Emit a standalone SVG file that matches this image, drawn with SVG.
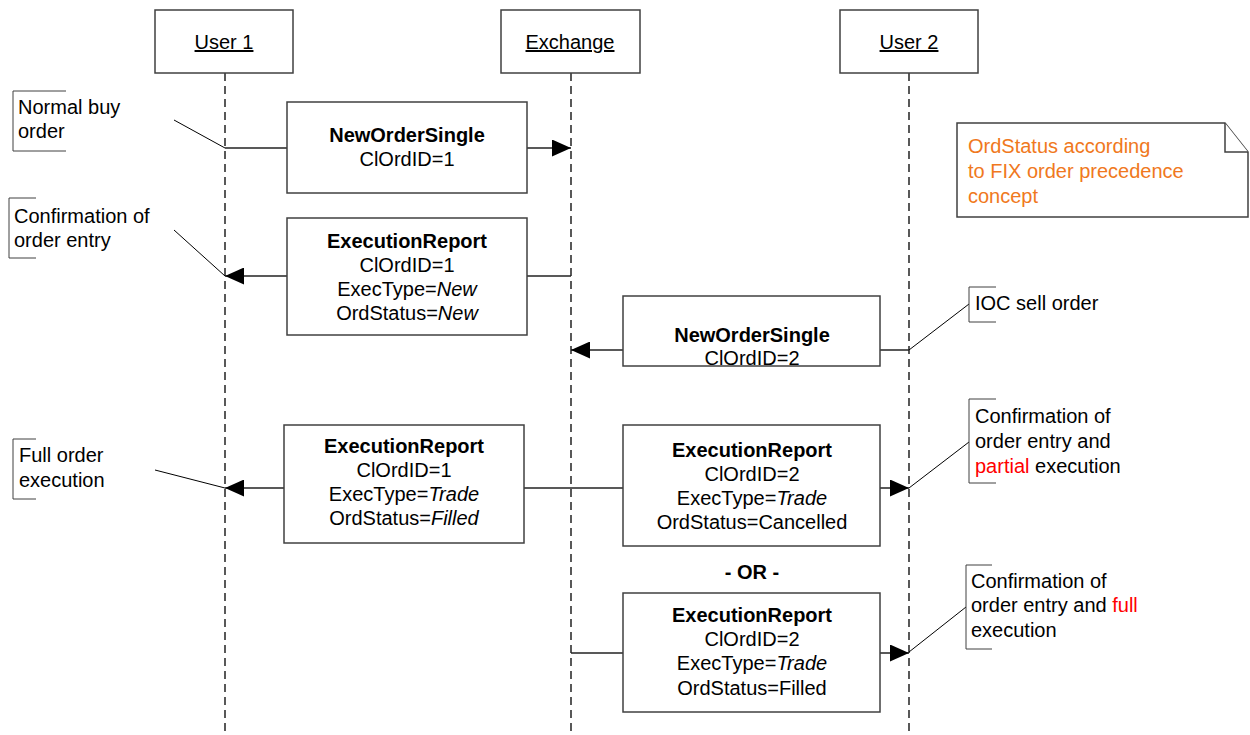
<svg xmlns="http://www.w3.org/2000/svg" width="1250" height="735" viewBox="0 0 1250 735">
<style>
text{font-family:"Liberation Sans",Arial,sans-serif;font-size:20px;fill:#000}
.c{text-anchor:middle}
.b{font-weight:bold}
.i{font-style:italic}
.box{fill:#fff;stroke:#404040;stroke-width:1.5}
.life{stroke:#000;stroke-width:1.3;stroke-dasharray:8,5;fill:none}
.msg{stroke:#222;stroke-width:1.5;fill:none}
.lead{stroke:#000;stroke-width:1;fill:none}
.br{stroke:#404040;stroke-width:1;fill:none}
.red{fill:#ff0000}
.or{fill:#F07820}
</style>
<defs>
<marker id="ah" markerWidth="19" markerHeight="17" refX="19" refY="8.5" orient="auto" markerUnits="userSpaceOnUse">
<path d="M0,0 L19,8.5 L0,17 Z" fill="#000"/>
</marker>
</defs>
<rect width="1250" height="735" fill="#fff"/>

<g id="lifelines">
<line class="life" x1="225" y1="73" x2="225" y2="735"/>
<line class="life" x1="571" y1="73" x2="571" y2="735"/>
<line class="life" x1="909" y1="73" x2="909" y2="735"/>
</g>

<g id="user1">
<rect class="box" x="155" y="10" width="138" height="63"/>
<text class="c" x="224" y="49" text-decoration="underline">User 1</text>
</g>
<g id="exchange">
<rect class="box" x="501" y="10" width="139" height="63"/>
<text class="c" x="570" y="49" text-decoration="underline">Exchange</text>
</g>
<g id="user2">
<rect class="box" x="840" y="10" width="138" height="63"/>
<text class="c" x="909" y="49" text-decoration="underline">User 2</text>
</g>

<g id="connectors">
<line class="msg" x1="225" y1="148" x2="287" y2="148"/>
<line class="msg" x1="527" y1="148" x2="571" y2="148" marker-end="url(#ah)"/>
<line class="msg" x1="571" y1="276" x2="527" y2="276"/>
<line class="msg" x1="287" y1="276" x2="225" y2="276" marker-end="url(#ah)"/>
<line class="msg" x1="909" y1="350" x2="880" y2="350"/>
<line class="msg" x1="623" y1="350" x2="571" y2="350" marker-end="url(#ah)"/>
<line class="msg" x1="524" y1="488" x2="623" y2="488"/>
<line class="msg" x1="284" y1="488" x2="225" y2="488" marker-end="url(#ah)"/>
<line class="msg" x1="880" y1="488" x2="909" y2="488" marker-end="url(#ah)"/>
<line class="msg" x1="571" y1="653" x2="623" y2="653"/>
<line class="msg" x1="880" y1="653" x2="909" y2="653" marker-end="url(#ah)"/>
<line class="lead" x1="174" y1="120" x2="225" y2="148"/>
<line class="lead" x1="174" y1="230" x2="225" y2="276"/>
<line class="lead" x1="155" y1="470" x2="225" y2="488"/>
<line class="lead" x1="909" y1="350" x2="969" y2="304"/>
<line class="lead" x1="909" y1="488" x2="969" y2="442"/>
<line class="lead" x1="909" y1="652" x2="966" y2="607"/>
</g>

<g id="msg1">
<rect class="box" x="287" y="102" width="240" height="91"/>
<text class="c b" x="407" y="142">NewOrderSingle</text>
<text class="c" x="407" y="166">ClOrdID=1</text>
</g>
<g id="msg2">
<rect class="box" x="287" y="218" width="240" height="117"/>
<text class="c b" x="407" y="248">ExecutionReport</text>
<text class="c" x="407" y="272">ClOrdID=1</text>
<text class="c" x="407" y="296">ExecType=<tspan class="i">New</tspan></text>
<text class="c" x="407" y="320">OrdStatus=<tspan class="i">New</tspan></text>
</g>
<g id="msg3">
<rect class="box" x="623" y="296" width="257" height="70"/>
<text class="c b" x="752" y="342">NewOrderSingle</text>
<text class="c" x="752" y="365">ClOrdID=2</text>
</g>
<g id="msg4">
<rect class="box" x="284" y="425" width="240" height="118"/>
<text class="c b" x="404" y="453">ExecutionReport</text>
<text class="c" x="404" y="477">ClOrdID=1</text>
<text class="c" x="404" y="501">ExecType=<tspan class="i">Trade</tspan></text>
<text class="c" x="404" y="525">OrdStatus=<tspan class="i">Filled</tspan></text>
</g>
<g id="msg5">
<rect class="box" x="623" y="425" width="257" height="121"/>
<text class="c b" x="752" y="457">ExecutionReport</text>
<text class="c" x="752" y="481">ClOrdID=2</text>
<text class="c" x="752" y="505">ExecType=<tspan class="i">Trade</tspan></text>
<text class="c" x="752" y="529">OrdStatus=Cancelled</text>
</g>
<g id="or">
<text class="c b" x="752" y="579">- OR -</text>
</g>
<g id="msg6">
<rect class="box" x="623" y="593" width="257" height="119"/>
<text class="c b" x="752" y="622">ExecutionReport</text>
<text class="c" x="752" y="646">ClOrdID=2</text>
<text class="c" x="752" y="670">ExecType=<tspan class="i">Trade</tspan></text>
<text class="c" x="752" y="695">OrdStatus=Filled</text>
</g>

<g id="note">
<path class="box" d="M957,123 H1225 L1248,152 V217 H957 Z"/>
<path class="box" d="M1225,123 V152 H1248" fill="none"/>
<text class="or" x="968" y="153">OrdStatus according</text>
<text class="or" x="968" y="178">to FIX order precedence</text>
<text class="or" x="968" y="203">concept</text>
</g>

<g id="ann1">
<path class="br" d="M66,91 H13 V151 H66"/>
<text x="18" y="114">Normal buy</text>
<text x="18" y="138">order</text>
</g>
<g id="ann2">
<path class="br" d="M36,198 H9 V258 H36"/>
<text x="14" y="223">Confirmation of</text>
<text x="14" y="247">order entry</text>
</g>
<g id="ann3">
<path class="br" d="M36,439 H13 V499 H36"/>
<text x="19" y="462">Full order</text>
<text x="19" y="487">execution</text>
</g>
<g id="ann4">
<path class="br" d="M996,287 H969 V322 H996"/>
<text x="975" y="310">IOC sell order</text>
</g>
<g id="ann5">
<path class="br" d="M996,399 H969 V483 H996"/>
<text x="975" y="423">Confirmation of</text>
<text x="975" y="448">order entry and</text>
<text x="975" y="473"><tspan class="red">partial</tspan> execution</text>
</g>
<g id="ann6">
<path class="br" d="M992,565 H966 V649 H992"/>
<text x="971" y="588">Confirmation of</text>
<text x="971" y="612">order entry and <tspan class="red">full</tspan></text>
<text x="971" y="637">execution</text>
</g>
</svg>
